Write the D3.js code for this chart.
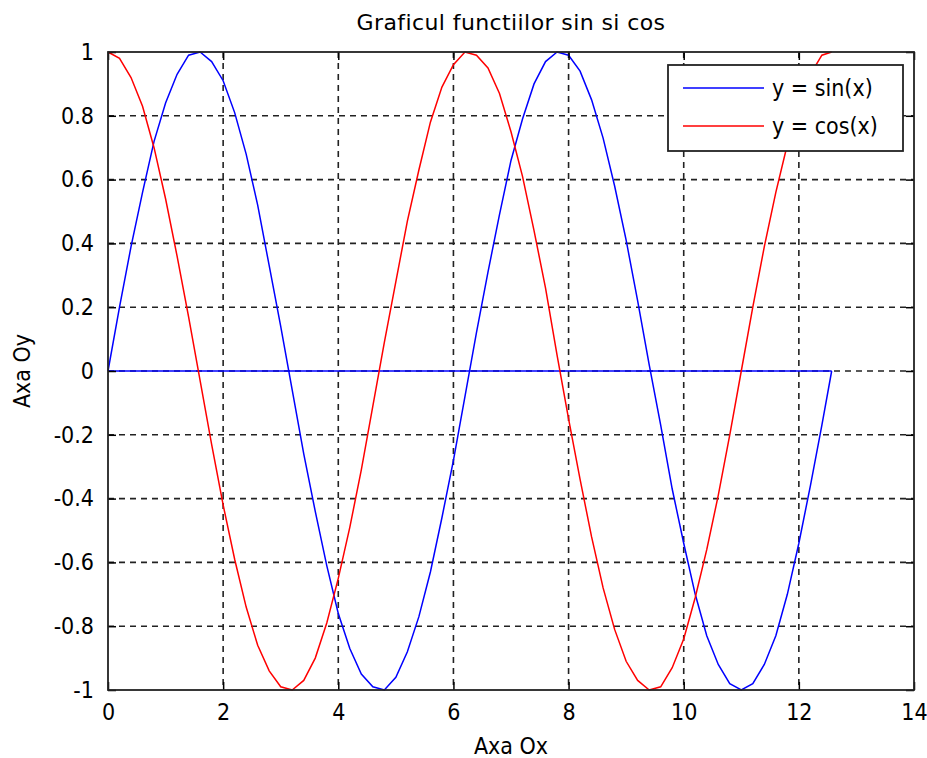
<!DOCTYPE html>
<html>
  <head>
    <meta charset="UTF-8" />
    <title>Graficul functiilor sin si cos</title>
    <script src="https://d3js.org/d3.v7.min.js"></script>
    <style>
      * { margin: 0; padding: 0; box-sizing: border-box; }
      body { background: #fff; }
      svg { display: block; }
      text {
        fill: #000;
        font-family: "Liberation Sans Narrow", "DejaVu Sans Condensed", "Liberation Sans", Arial, sans-serif;
        font-size: 23px;
      }
      .title { font-family: "DejaVu Sans", sans-serif; font-size: 22px; letter-spacing: 0.4px; }
      .grid line { stroke: #222; stroke-dasharray: 6,5; stroke-width: 1.6; }
    </style>
  </head>
  <body>
    <svg id="chart" width="927" height="758"></svg>
  </body>
  <script>
    const xs = [0, 0.2, 0.4, 0.6, 0.8, 1.0, 1.2, 1.4, 1.6, 1.8, 2.0, 2.2, 2.4, 2.6, 2.8, 3.0,
      3.2, 3.4, 3.6, 3.8, 4.0, 4.2, 4.4, 4.6, 4.8, 5.0, 5.2, 5.4, 5.6, 5.8, 6.0, 6.2,
      6.4, 6.6, 6.8, 7.0, 7.2, 7.4, 7.6, 7.8, 8.0, 8.2, 8.4, 8.6, 8.8, 9.0, 9.2, 9.4,
      9.6, 9.8, 10.0, 10.2, 10.4, 10.6, 10.8, 11.0, 11.2, 11.4, 11.6, 11.8, 12.0, 12.2, 12.4, 12.57];
    const sinVals = [0.00, 0.20, 0.39, 0.56, 0.72, 0.84, 0.93, 0.99, 1.00, 0.97, 0.91, 0.81, 0.68, 0.52, 0.33, 0.14,
      -0.06, -0.26, -0.44, -0.61, -0.76, -0.87, -0.95, -0.99, -1.00, -0.96, -0.88, -0.77, -0.63, -0.46, -0.28, -0.08,
      0.12, 0.31, 0.49, 0.66, 0.79, 0.90, 0.97, 1.00, 0.99, 0.94, 0.85, 0.73, 0.58, 0.41, 0.22, 0.02,
      -0.17, -0.37, -0.54, -0.70, -0.83, -0.92, -0.98, -1.00, -0.98, -0.92, -0.83, -0.70, -0.54, -0.36, -0.17, 0.00];
    const cosVals = [1.00, 0.98, 0.92, 0.83, 0.70, 0.54, 0.36, 0.17, -0.03, -0.23, -0.42, -0.59, -0.74, -0.86, -0.94, -0.99,
      -1.00, -0.97, -0.90, -0.79, -0.65, -0.49, -0.31, -0.11, 0.09, 0.28, 0.47, 0.63, 0.78, 0.89, 0.96, 1.00,
      0.99, 0.95, 0.87, 0.75, 0.61, 0.44, 0.26, 0.05, -0.15, -0.34, -0.52, -0.68, -0.81, -0.91, -0.97, -1.00,
      -0.99, -0.93, -0.84, -0.71, -0.56, -0.39, -0.20, 0.00, 0.20, 0.39, 0.56, 0.71, 0.84, 0.93, 0.99, 1.00];
    // blue baseline drawn along y = 0
    const baseX = [0, 12.57];
    const baseY = [0, 0];

    const xTicks = [0, 2, 4, 6, 8, 10, 12, 14];
    const yTicks = [-1, -0.8, -0.6, -0.4, -0.2, 0, 0.2, 0.4, 0.6, 0.8, 1];
    const legendLabels = ["y = sin(x)", "y = cos(x)"];
    const colors = ["#0000ff", "#ff0000"];

    const svg = d3.select("#chart");
    const plotL = 108, plotR = 914, plotT = 52, plotB = 690;

    const x = d3.scaleLinear().domain([0, 14]).range([plotL, plotR]);
    const y = d3.scaleLinear().domain([-1, 1]).range([plotB, plotT]);

    // grid
    const grid = svg.append("g").attr("class", "grid");
    grid.selectAll(".gx").data(xTicks.slice(1, -1)).enter().append("line")
      .attr("x1", d => x(d)).attr("x2", d => x(d))
      .attr("y1", plotT).attr("y2", plotB);
    grid.selectAll(".gy").data(yTicks.slice(1, -1)).enter().append("line")
      .attr("x1", plotL).attr("x2", plotR)
      .attr("y1", d => y(d)).attr("y2", d => y(d));

    // lines
    const line = d3.line().x(d => x(d[0])).y(d => y(d[1]));
    svg.append("path")
      .datum(baseX.map((v, i) => [v, baseY[i]]))
      .attr("d", line).attr("fill", "none")
      .attr("stroke", colors[0]).attr("stroke-width", 1.5);
    svg.append("path")
      .datum(xs.map((v, i) => [v, sinVals[i]]))
      .attr("d", line).attr("fill", "none")
      .attr("stroke", colors[0]).attr("stroke-width", 1.5);
    svg.append("path")
      .datum(xs.map((v, i) => [v, cosVals[i]]))
      .attr("d", line).attr("fill", "none")
      .attr("stroke", colors[1]).attr("stroke-width", 1.5);

    // axes with inner ticks on all sides
    const tickLen = 8;
    const fmt = d => String(d);
    const axisStyle = g => {
      g.select(".domain").remove();
      g.selectAll(".tick line").attr("stroke", "#000").attr("stroke-width", 1.5);
    };
    svg.append("g").attr("transform", `translate(0,${plotB})`)
      .call(d3.axisBottom(x).tickValues(xTicks).tickSizeInner(-tickLen).tickSizeOuter(0).tickPadding(14).tickFormat(fmt))
      .call(axisStyle)
      .call(g => g.attr("font-size", null).attr("font-family", null));
    svg.append("g").attr("transform", `translate(0,${plotT})`)
      .call(d3.axisTop(x).tickValues(xTicks).tickSizeInner(-tickLen).tickSizeOuter(0).tickFormat(""))
      .call(axisStyle);
    svg.append("g").attr("transform", `translate(${plotL},0)`)
      .call(d3.axisLeft(y).tickValues(yTicks).tickSizeInner(-tickLen).tickSizeOuter(0).tickPadding(14).tickFormat(fmt))
      .call(axisStyle)
      .call(g => g.attr("font-size", null).attr("font-family", null));
    svg.append("g").attr("transform", `translate(${plotR},0)`)
      .call(d3.axisRight(y).tickValues(yTicks).tickSizeInner(-tickLen).tickSizeOuter(0).tickFormat(""))
      .call(axisStyle);

    // box
    svg.append("rect")
      .attr("x", plotL).attr("y", plotT)
      .attr("width", plotR - plotL).attr("height", plotB - plotT)
      .attr("fill", "none").attr("stroke", "#222").attr("stroke-width", 1.8);

    // title and axis labels
    svg.append("text").attr("class", "title")
      .attr("x", (plotL + plotR) / 2).attr("y", 30)
      .attr("text-anchor", "middle").text("Graficul functiilor sin si cos");
    svg.append("text")
      .attr("x", (plotL + plotR) / 2).attr("y", 754)
      .attr("text-anchor", "middle").text("Axa Ox");
    svg.append("text")
      .attr("transform", `translate(30,${(plotT + plotB) / 2}) rotate(-90)`)
      .attr("text-anchor", "middle").text("Axa Oy");

    // legend
    const lg = svg.append("g").attr("transform", "translate(668,65)");
    lg.append("rect").attr("width", 235).attr("height", 86)
      .attr("fill", "#fff").attr("stroke", "#222").attr("stroke-width", 1.8);
    legendLabels.forEach((lab, i) => {
      const ly = 23 + i * 38;
      lg.append("line").attr("x1", 15).attr("x2", 96).attr("y1", ly).attr("y2", ly)
        .attr("stroke", colors[i]).attr("stroke-width", 1.5);
      lg.append("text").attr("x", 104).attr("y", ly + 8).text(lab);
    });
  </script>
</html>
